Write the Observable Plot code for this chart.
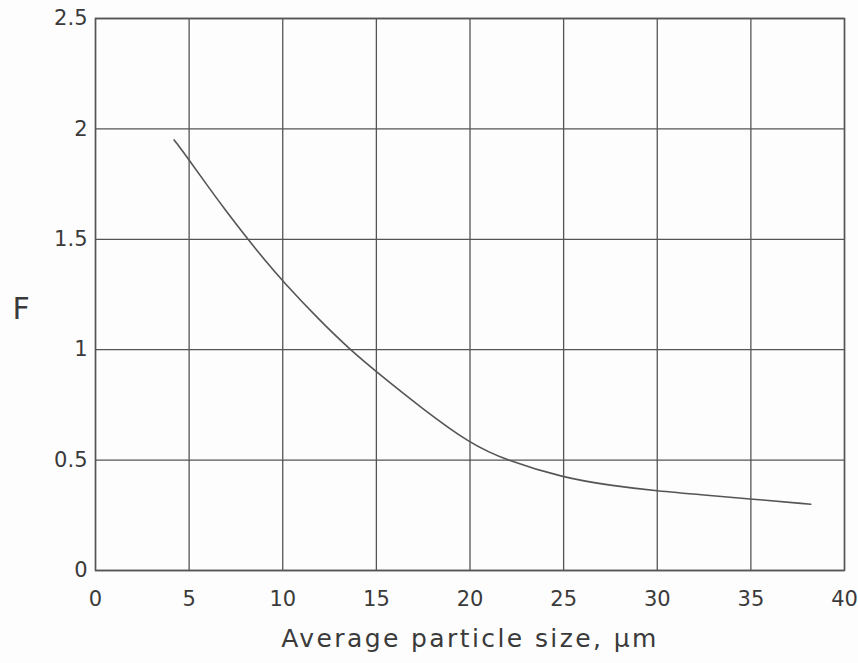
<!DOCTYPE html>
<html>
<head>
<meta charset="utf-8">
<script src="https://cdn.jsdelivr.net/npm/d3@7"></script>
<script src="https://cdn.jsdelivr.net/npm/@observablehq/plot@0.6"></script>
<style>
  html, body { margin: 0; padding: 0; background: #fdfdfd; }
  #chart svg { display: block; background: #fdfdfd; }
  #chart text { font-family: "DejaVu Sans", sans-serif; fill: #3a3a3a; }
  #chart g[aria-label="x-axis label"] text { font-size: 25px; letter-spacing: 2.4px; }
</style>
</head>
<body>
<div id="chart"></div>
<script>
// Data
const particleSize = [4.2, 5, 6, 7, 8, 9, 10, 12, 13.6, 15, 17.5, 20, 21.9, 25, 27.5, 30, 32.5, 35, 38.2];
const fValues      = [1.95, 1.86, 1.74, 1.625, 1.515, 1.41, 1.31, 1.13, 1.0, 0.90, 0.73, 0.575, 0.50, 0.42, 0.385, 0.36, 0.342, 0.324, 0.30];

const xTicks = [0, 5, 10, 15, 20, 25, 30, 35, 40];
const yTicks = [0, 0.5, 1, 1.5, 2, 2.5];
const yTickLabels = ["0", "0.5", "1", "1.5", "2", "2.5"];
const xLabel = "Average particle size, µm";
const yLabel = "F";

const data = particleSize.map((x, i) => ({x, f: fValues[i]}));

const chart = Plot.plot({
  width: 858,
  height: 663,
  marginLeft: 95,
  marginRight: 14,
  marginTop: 18,
  marginBottom: 93,
  style: {fontSize: "21px", background: "#fdfdfd"},
  x: {domain: [0, 40]},
  y: {domain: [0, 2.5]},
  marks: [
    Plot.gridX(xTicks, {stroke: "#555", strokeOpacity: 1, strokeWidth: 1.3}),
    Plot.gridY(yTicks, {stroke: "#555", strokeOpacity: 1, strokeWidth: 1.3}),
    Plot.frame({stroke: "#555", strokeWidth: 1.5}),
    Plot.axisX({ticks: xTicks, tickSize: 0, tickPadding: 21, fontSize: 21, tickFormat: d => String(d),
      label: xLabel, labelAnchor: "center", labelOffset: 76, labelArrow: "none"}),
    Plot.axisY({ticks: yTicks, tickSize: 0, tickPadding: 8, fontSize: 21,
      tickFormat: d => yTickLabels[yTicks.indexOf(d)], label: null}),
    Plot.text([yLabel], {text: d => d, frameAnchor: "left", dx: -83, dy: 15, fontSize: 30, textAnchor: "start"}),
    Plot.line(data, {x: "x", y: "f", curve: "basis", stroke: "#555", strokeWidth: 1.6})
  ]
});
document.getElementById("chart").append(chart);
</script>
</body>
</html>
